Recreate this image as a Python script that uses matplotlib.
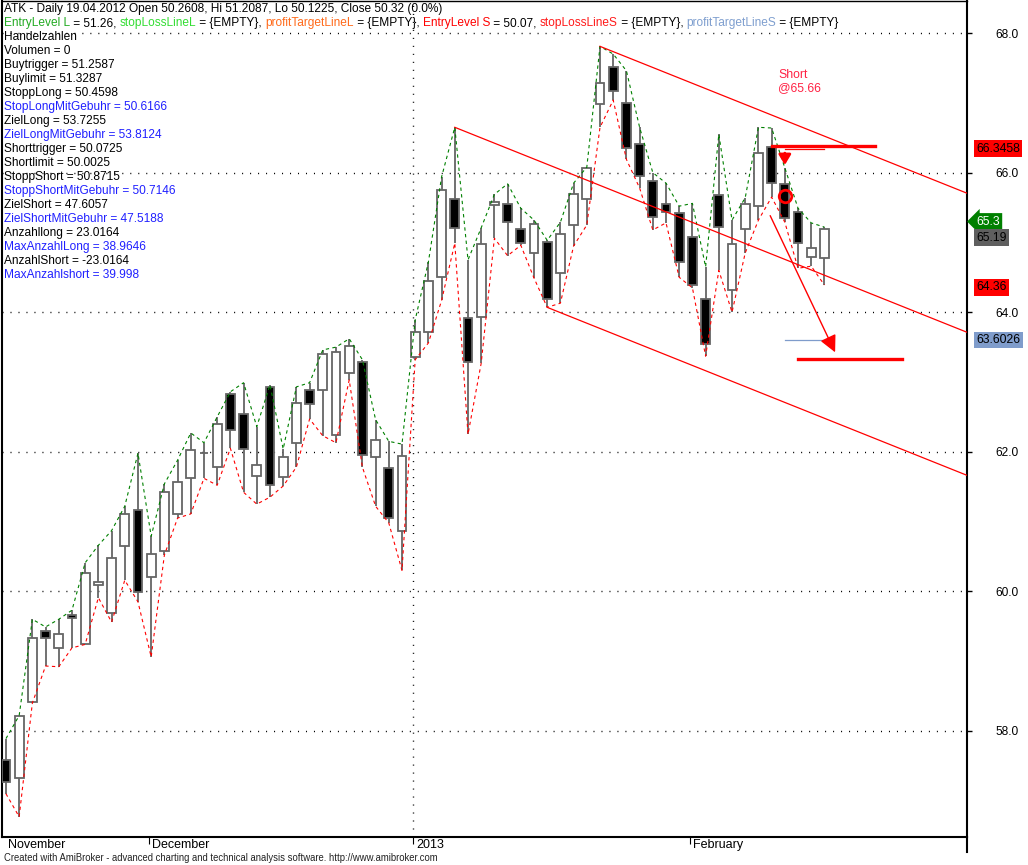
import matplotlib
matplotlib.use("Agg")
from matplotlib import pyplot as plt

W, H = 1028, 865
plt.rcParams['font.family'] = ['Liberation Sans', 'DejaVu Sans']

# daily bars (price units)
opens = [57.58, 57.33, 58.42, 59.43, 59.19, 59.66, 59.25, 60.09, 59.69, 60.65,
         61.17, 60.21, 60.58, 61.11, 61.62, 61.98, 61.78, 62.83, 62.54, 61.65,
         62.93, 61.64, 62.13, 62.89, 62.89, 62.24, 63.13, 63.29, 61.93, 61.77,
         60.87, 63.36, 63.72, 64.50, 65.62, 63.92, 63.93, 65.54, 65.55, 65.19,
         64.85, 65.01, 64.56, 65.25, 65.62, 66.98, 67.51, 67.00, 66.41, 65.88,
         65.55, 65.42, 65.08, 64.19, 65.68, 64.32, 65.19, 65.52, 66.37, 65.84,
         65.44, 64.79, 64.78]
closes = [57.27, 58.21, 59.33, 59.33, 59.39, 59.62, 60.26, 60.13, 60.48, 61.11,
          59.99, 60.54, 61.42, 61.57, 62.03, 61.98, 62.40, 62.31, 62.04, 61.81,
          61.52, 61.93, 62.70, 62.68, 63.40, 63.43, 63.52, 61.95, 62.17, 61.05,
          61.94, 63.72, 64.45, 65.75, 65.21, 63.29, 64.98, 65.58, 65.29, 64.99,
          65.26, 64.19, 65.12, 65.69, 66.07, 67.28, 67.17, 66.35, 65.95, 65.36,
          65.44, 64.72, 64.39, 63.54, 65.22, 64.98, 65.55, 66.28, 65.85, 65.35,
          64.99, 64.92, 65.19]
highs = [57.89, 58.22, 59.60, 59.49, 59.60, 59.73, 60.41, 60.66, 60.87, 61.22,
         61.98, 60.79, 61.54, 61.88, 62.27, 62.13, 62.50, 62.86, 62.99, 62.36,
         62.96, 62.04, 62.93, 62.99, 63.46, 63.50, 63.62, 63.32, 62.46, 62.15,
         62.11, 63.89, 64.72, 65.94, 66.65, 64.75, 65.21, 65.69, 65.84, 65.49,
         65.32, 65.03, 65.29, 65.85, 66.08, 67.81, 67.70, 67.46, 66.65, 66.00,
         65.85, 65.52, 65.56, 64.65, 66.55, 65.32, 65.64, 66.65, 66.64, 66.07,
         65.49, 65.28, 65.22]
lows = [57.10, 56.77, 58.40, 58.93, 58.92, 59.19, 59.24, 59.91, 59.56, 60.16,
        59.85, 59.06, 60.52, 61.05, 61.11, 61.62, 61.52, 62.05, 61.42, 61.25,
        61.35, 61.51, 61.78, 62.47, 62.23, 62.13, 63.03, 61.78, 61.22, 60.98,
        60.30, 63.32, 63.56, 64.17, 64.99, 62.25, 63.27, 65.06, 64.81, 64.96,
        64.49, 64.07, 64.13, 64.95, 65.25, 66.65, 67.04, 66.19, 65.78, 65.18,
        65.28, 64.50, 64.35, 63.37, 64.60, 64.00, 64.85, 65.32, 65.65, 65.29,
        64.63, 64.66, 64.39]

month_starts = [11, 31, 52]
month_names = ["December", "2013", "February"]
grid_levels = [58.0, 60.0, 62.0, 64.0, 66.0, 68.0]

# trend channel: anchor bars and slope (price per bar)
channel_anchor_bars = [34, 41, 45]
channel_slope = -0.0757

short_bar = 59
short_price = 65.66
stop_level = 66.3458
target_level = 63.6026
target_line = 63.33

label_values = [66.3458, 65.3, 65.19, 64.36, 63.6026]
label_colors = ['#ff0000', '#008000', '#5f5f5f', '#ff0000', '#7f9ccb']
label_text_colors = ['black', 'white', 'black', 'black', 'black']

title = "ATK - Daily 19.04.2012 Open 50.2608, Hi 51.2087, Lo 50.1225, Close 50.32 (0.0%)"
legend_parts = [("EntryLevel L", '#22aa22'), (" = 51.26, ", 'black'),
                ("stopLossLineL", '#33dd33'), (" = {EMPTY}, ", 'black'),
                ("profitTargetLineL", '#ff6a1a'), (" = {EMPTY}, ", 'black'),
                ("EntryLevel S", '#ff0000'), (" = 50.07, ", 'black'),
                ("stopLossLineS", '#ff1a1a'), (" = {EMPTY}, ", 'black'),
                ("profitTargetLineS", '#7f9fcf'), (" = {EMPTY}", 'black')]
info_lines = ["Handelzahlen", "Volumen = 0", "Buytrigger = 51.2587", "Buylimit = 51.3287",
              "StoppLong = 50.4598", "StopLongMitGebuhr = 50.6166", "ZielLong = 53.7255",
              "ZielLongMitGebuhr = 53.8124", "Shorttrigger = 50.0725", "Shortlimit = 50.0025",
              "StoppShort = 50.8715", "StoppShortMitGebuhr = 50.7146", "ZielShort = 47.6057",
              "ZielShortMitGebuhr = 47.5188", "Anzahllong = 23.0164", "MaxAnzahlLong = 38.9646",
              "AnzahlShort = -23.0164", "MaxAnzahlshort = 39.998"]
info_blue = [False, False, False, False, False, True, False, True, False, False,
             False, True, False, True, False, True, False, True]

n = len(opens)
idx = list(range(n))
fs = 8.6

fig = plt.figure(figsize=(W / 100, H / 100), dpi=100)
ax = fig.add_axes([2 / W, 28 / H, 965 / W, 836 / H])
ax.set_xlim(-0.3, 72.8)
ax.set_ylim(56.48, 68.46)

# grid
for lv in grid_levels:
    ax.axhline(lv, color='black', lw=1.0, ls=(0, (0.75, 5)), zorder=1)
ax.axvline(month_starts[1] - 0.17, color='black', lw=1.0, ls=(0, (0.75, 5)), zorder=1)

# candles
body_lo = [min(o, c) for o, c in zip(opens, closes)]
body_h = [abs(c - o) for o, c in zip(opens, closes)]
fills = ['white' if c >= o else 'black' for o, c in zip(opens, closes)]
ax.vlines(idx, lows, highs, color='#666666', lw=1.3, zorder=3)
ax.bar(idx, body_h, bottom=body_lo, width=0.67, color=fills,
       edgecolor='#666666', linewidth=1.3, zorder=4)

# high / low bands
ax.plot(idx, highs, color='#008000', lw=0.8, ls=(0, (3, 3)), zorder=5)
ax.plot(idx, lows, color='#ff0000', lw=0.8, ls=(0, (3, 3)), zorder=5)

# channel lines
x_end = ax.get_xlim()[1]
for b in channel_anchor_bars:
    p0 = highs[b] if b != 41 else lows[b]
    ax.plot([b, x_end], [p0, p0 + channel_slope * (x_end - b)],
            color='#ff0000', lw=0.9, zorder=5)

# short trade marks
ax.plot([58, 65.8], [stop_level + 0.04] * 2, color='#ff0000', lw=2.4, zorder=6)
ax.plot([59, 62], [stop_level] * 2, color='#ff0000', lw=0.9, zorder=6)
ax.plot([59, 62], [target_level] * 2, color='#7f9ccb', lw=0.9, zorder=6)
ax.plot([60, 67.9], [target_line] * 2, color='#ff0000', lw=2.4, zorder=6)
ax.plot(short_bar, short_price, 'o', mfc='none', mec='#ff0000', ms=9, mew=2, zorder=8)
ax.annotate('', xy=(short_bar, highs[short_bar]), xytext=(short_bar, highs[short_bar] + 0.25),
            arrowprops=dict(arrowstyle='-|>,head_length=0.5,head_width=0.3', color='#ff0000',
                            lw=2, mutation_scale=12), zorder=8)
ax.annotate('', xy=(62.9, 63.39), xytext=(57.8, 65.42),
            arrowprops=dict(arrowstyle='-|>,head_length=0.6,head_width=0.3', color='#ff0000',
                            lw=1, mutation_scale=17), zorder=8)
ax.text(58.5, 67.48, "Short\n@%.2f" % short_price, color='#ff2244', fontsize=8.8,
        va='top', ha='left', linespacing=1.12, zorder=9)

# axes styling
for s in ['left', 'bottom', 'right']:
    ax.spines[s].set_linewidth(1.5)
ax.spines['top'].set_linewidth(1.0)
ax.yaxis.tick_right()
ax.set_yticks(grid_levels)
ax.set_yticklabels(["%.1f" % v for v in grid_levels])
ax.tick_params(axis='y', length=3.6, width=1, pad=17, labelsize=8.6)
ax.set_xticks([m - 0.17 for m in month_starts])
ax.set_xticklabels([])
ax.tick_params(axis='x', direction='out', length=5, width=0.8)
ax.plot([1, 1], [0, -15 / 836], transform=ax.transAxes, color='black', lw=1.5, clip_on=False)

xtr = ax.get_xaxis_transform()
ax.text(0.15, -0.0096, "November", transform=xtr, fontsize=9, va='center', ha='left')
for m, name in zip(month_starts, month_names):
    ax.text(m - 0.17 + 0.25, -0.0096, name, transform=xtr, fontsize=9, va='center', ha='left')

# value labels on the price axis, pushed apart when they overlap
ytr = ax.get_yaxis_transform()
min_gap = 16 / 69.8
placed = []
for v, fc, tc in zip(label_values, label_colors, label_text_colors):
    y = v
    if placed and placed[-1] - y < min_gap:
        y = placed[-1] - min_gap
    placed.append(y)
    style = 'larrow,pad=0.2' if tc == 'white' else 'square,pad=0.2'
    txt = ("%.4f" % v).rstrip('0').rstrip('.')
    ax.text(1.0095, y, txt, transform=ytr, fontsize=8.7, color=tc, va='center', ha='left',
            bbox=dict(boxstyle=style, fc=fc, ec='none'), clip_on=False, zorder=10)

# header texts
fig.text(4 / W, 1 - 9 / H, title, fontsize=fs, va='center', ha='left')
prev = fig.text(4 / W, 1 - 23 / H, legend_parts[0][0], color=legend_parts[0][1],
                fontsize=fs, va='center', ha='left')
for txt, col in legend_parts[1:]:
    prev = ax.annotate(txt, xy=(1, 0), xycoords=prev, va='bottom', ha='left',
                       color=col, fontsize=fs, annotation_clip=False)
for k, (line, blue) in enumerate(zip(info_lines, info_blue)):
    fig.text(4 / W, 1 - (37 + 14 * k) / H, line, fontsize=fs, va='center', ha='left',
             color='#2020ff' if blue else 'black')

fig.text(4 / W, 1 - 858 / H,
         "Created with AmiBroker - advanced charting and technical analysis software. http://www.amibroker.com",
         fontsize=6.85, va='center', ha='left', color='#222222')

fig.savefig("out.png", dpi=100)
